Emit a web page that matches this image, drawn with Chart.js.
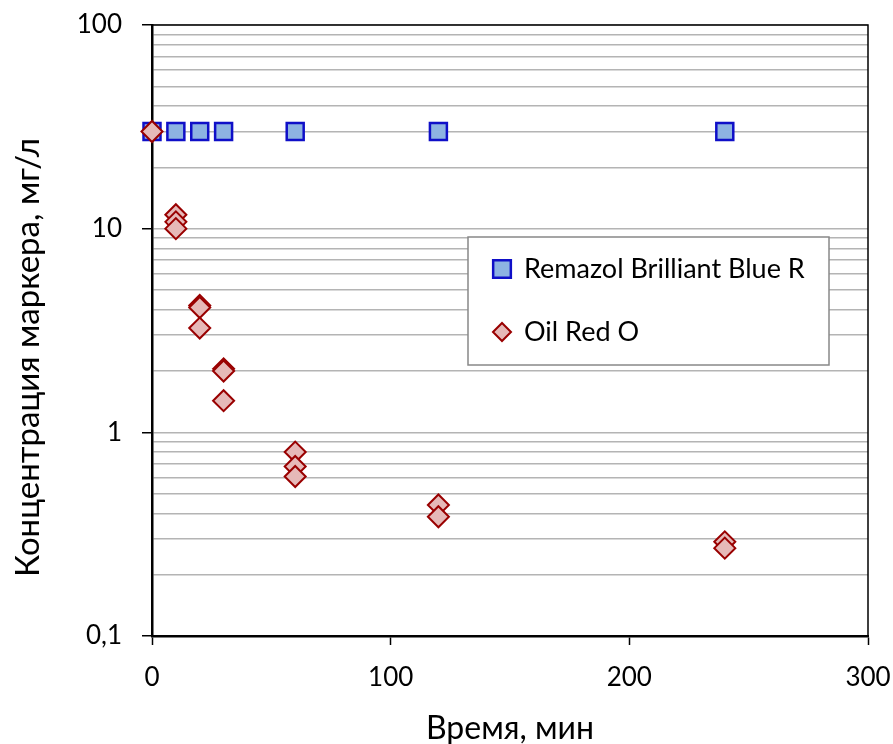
<!DOCTYPE html>
<html><head><meta charset="utf-8">
<script src="https://cdn.jsdelivr.net/npm/chart.js@4.4.0/dist/chart.umd.min.js"></script>
<style>html,body{margin:0;padding:0;background:#fff}#wrap{width:893px;height:744px}</style>
</head><body><div id="wrap"><canvas id="c" width="893" height="744"></canvas></div>
<script>
const seriesNames = ['Remazol Brilliant Blue R', 'Oil Red O'];
const rbbrTime = [0, 10, 20, 30, 60, 120, 240];
const rbbrConc = [30, 30, 30, 30, 30, 30, 30];
const oilTime = [0, 10, 10, 10, 20, 20, 20, 30, 30, 30, 60, 60, 60, 120, 120, 240, 240];
const oilConc = [30, 11.7, 10.8, 10.0, 4.2, 4.1, 3.25, 2.05, 2.0, 1.43, 0.80, 0.68, 0.607, 0.44, 0.385, 0.29, 0.27];
const xTicks = [0, 100, 200, 300];
const yDecades = [0.1, 1, 10, 100];
const yDecadeLabels = ['0,1', '1', '10', '100'];
const xTitle = 'Время, мин';
const yTitle = 'Концентрация маркера, мг/л';

const FONT = 'Lato, "Open Sans", sans-serif';
const toPts = (xs, ys) => xs.map((x, i) => ({x: x, y: ys[i]}));
const isDecade = v => yDecades.some(d => Math.abs(d - v) < 1e-9 * d);

const framePlugin = {
  id: 'frame',
  beforeDatasetsDraw(chart) {
    const {ctx, chartArea: a} = chart;
    ctx.save();
    ctx.strokeStyle = '#000';
    ctx.lineWidth = 1.5;
    ctx.beginPath();
    ctx.moveTo(a.left, a.top);
    ctx.lineTo(a.right, a.top);
    ctx.lineTo(a.right, a.bottom);
    ctx.stroke();
    ctx.restore();
  }
};

const yTitlePlugin = {
  id: 'yTitle',
  afterDraw(chart) {
    const {ctx, chartArea: a} = chart;
    ctx.save();
    ctx.translate(28, (a.top + a.bottom) / 2 + 27);
    ctx.rotate(-Math.PI / 2);
    ctx.fillStyle = '#000';
    ctx.font = '33px ' + FONT;
    ctx.textAlign = 'center';
    ctx.textBaseline = 'middle';
    ctx.fillText(yTitle, 0, 0);
    ctx.restore();
  }
};

const legendPlugin = {
  id: 'boxLegend',
  afterDraw(chart) {
    const {ctx} = chart;
    const bx = 468, by = 237, bw = 361, bh = 128;
    ctx.save();
    ctx.fillStyle = '#fff';
    ctx.fillRect(bx, by, bw, bh);
    ctx.strokeStyle = '#888';
    ctx.lineWidth = 1.5;
    ctx.strokeRect(bx, by, bw, bh);
    const rows = [269, 332];
    const sizes = [12.5, 9];
    chart.data.datasets.forEach((ds, i) => {
      const y = rows[i];
      ctx.fillStyle = ds.backgroundColor;
      ctx.strokeStyle = ds.borderColor;
      ctx.lineWidth = ds.borderWidth;
      Chart.helpers.drawPoint(ctx, {pointStyle: ds.pointStyle, radius: sizes[i], rotation: 0, borderWidth: ds.borderWidth}, 502, y);
      ctx.fillStyle = '#000';
      ctx.font = '27px ' + FONT;
      ctx.textAlign = 'left';
      ctx.textBaseline = 'middle';
      ctx.fillText(ds.label, 524, y);
    });
    ctx.restore();
  }
};

new Chart(document.getElementById('c'), {
  type: 'scatter',
  data: {
    datasets: [
      {
        label: seriesNames[0],
        data: toPts(rbbrTime, rbbrConc),
        pointStyle: 'rect',
        pointRadius: 12,
        pointHoverRadius: 12,
        backgroundColor: '#8db3e2',
        borderColor: '#0f0fc8',
        borderWidth: 2.5,
        order: 2,
        clip: false
      },
      {
        label: seriesNames[1],
        data: toPts(oilTime, oilConc),
        pointStyle: 'rectRot',
        pointRadius: 10.5,
        pointHoverRadius: 10.5,
        backgroundColor: '#e6b9b8',
        borderColor: '#990000',
        borderWidth: 2,
        order: 1,
        clip: false
      }
    ]
  },
  options: {
    responsive: false,
    devicePixelRatio: 1,
    animation: false,
    events: [],
    layout: {padding: {top: 25, right: 25, left: 0, bottom: 0}},
    plugins: {legend: {display: false}, tooltip: {enabled: false}},
    scales: {
      x: {
        type: 'linear',
        min: 0, max: 300,
        afterBuildTicks: s => { s.ticks = xTicks.map(v => ({value: v})); },
        afterFit: s => { s.height = 108; s.paddingLeft = 0; s.paddingRight = 0; },
        ticks: {font: {family: FONT, size: 26}, color: '#000', padding: 17, maxRotation: 0, autoSkip: false},
        grid: {drawOnChartArea: false, drawTicks: true, tickLength: 9, tickColor: '#000', tickWidth: 1.5},
        border: {display: true, color: '#000', width: 2.5},
        title: {display: true, text: xTitle, font: {family: FONT, size: 32}, color: '#000', padding: {top: 0, bottom: -4}}
      },
      y: {
        type: 'logarithmic',
        min: 0.1, max: 100,
        afterBuildTicks: s => {
          const t = [];
          for (let d = 0; d < yDecades.length - 1; d++) {
            for (let k = 1; k < 10; k++) t.push({value: yDecades[d] * k});
          }
          t.push({value: yDecades[yDecades.length - 1]});
          s.ticks = t;
        },
        afterFit: s => { s.width = 152; s.paddingTop = 0; s.paddingBottom = 0; },
        ticks: {
          font: {family: FONT, size: 26}, color: '#000', padding: 20, autoSkip: false,
          callback: v => { const i = yDecades.findIndex(d => Math.abs(d - v) < 1e-9 * d); return i >= 0 ? yDecadeLabels[i] : ''; }
        },
        grid: {
          drawOnChartArea: true, drawTicks: true, tickLength: 10,
          color: '#b4b4b4', lineWidth: 1.5,
          tickColor: c => (c.tick && isDecade(c.tick.value)) ? '#000' : 'rgba(0,0,0,0)',
          tickWidth: 1.5
        },
        border: {display: true, color: '#000', width: 2.5},
        title: {display: false, text: yTitle}
      }
    }
  },
  plugins: [framePlugin, yTitlePlugin, legendPlugin]
});
</script>
</body></html>
